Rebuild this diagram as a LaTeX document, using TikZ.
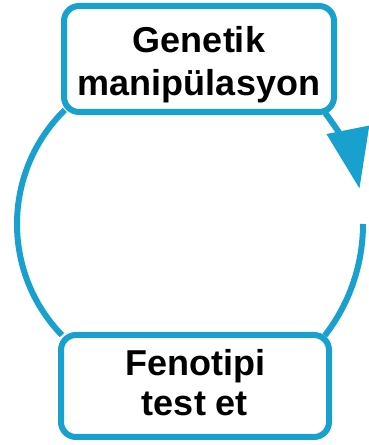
\documentclass[tikz,border=0pt]{standalone}
\usepackage{fontspec}
\newfontfamily\lab{Liberation Sans}
\usetikzlibrary{arrows.meta}
\definecolor{cyc}{RGB}{24,160,206}
\begin{document}
\begin{tikzpicture}[x=1pt,y=1pt,
  stepbox/.style={draw=cyc, line width=6pt, rounded corners=15pt, fill=white,
    align=center, inner sep=0pt, font=\lab\bfseries\fontsize{36}{43}\selectfont},
  link/.style={draw=cyc, line width=6pt}]
\useasboundingbox (0,0) rectangle (369,445);
% circle centres
\coordinate (cl) at (177,221);
\coordinate (cr) at (181,221);
% arcs
\draw[link] (cl) ++(134.5:160) coordinate (la) arc[start angle=134.5, end angle=224, radius=160] coordinate (lb);
\draw[link, -{Triangle[length=60pt, width=42pt]}] (cr) ++(37.6:182) coordinate (ra) arc[start angle=37.6, end angle=11.2, radius=182] coordinate (rb);
\draw[link] (cr) ++(0:182) coordinate (rc) arc[start angle=0, end angle=-37.8, radius=182] coordinate (rd);
% boxes
\node[stepbox, minimum width=270pt, minimum height=106pt] (top) at (199,386) {\rule{0pt}{37pt}Genetik\\manipülasyon};
\node[stepbox, minimum width=268pt, minimum height=102pt] (bot) at (195,59) {Fenotipi\\[-3pt]test et\rule[-7pt]{0pt}{0pt}};
\end{tikzpicture}
\end{document}
